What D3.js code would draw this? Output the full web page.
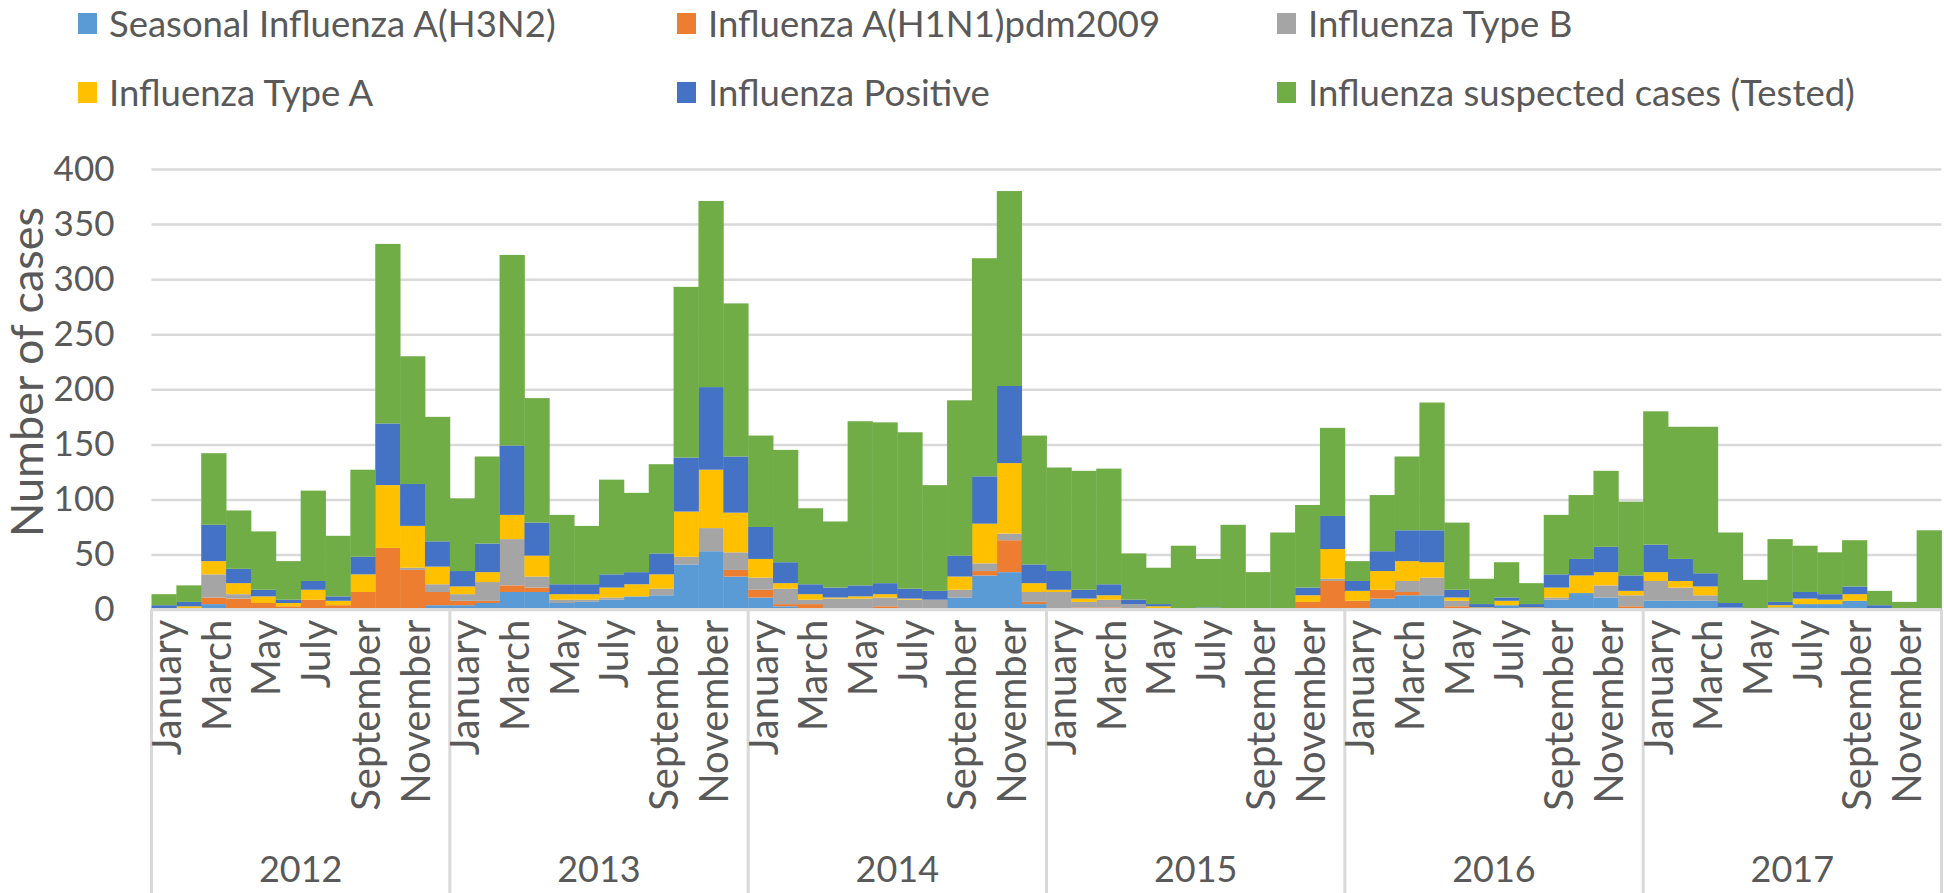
<!DOCTYPE html>
<html>
<head>
<meta charset="utf-8">
<script src="https://cdn.jsdelivr.net/npm/d3@7"></script>
<style>
  html, body { margin: 0; padding: 0; background: #ffffff; overflow: hidden; }
  svg { display: block; }
  text { font-family: Lato, "Open Sans", "Liberation Sans", sans-serif; fill: #595959; }
</style>
</head>
<body>
<svg id="chart" width="1944" height="893"></svg>
<script>
// ---------------- DATA ----------------
const years = ["2012", "2013", "2014", "2015", "2016", "2017"];
const monthNames = ["January", "February", "March", "April", "May", "June",
                    "July", "August", "September", "October", "November", "December"];
const seriesNames = ["Seasonal Influenza A(H3N2)", "Influenza A(H1N1)pdm2009", "Influenza Type B",
                     "Influenza Type A", "Influenza Positive", "Influenza suspected cases (Tested)"];

const h3n2 = [
  1, 0, 5, 1, 0, 0, 0, 0, 0, 1, 0, 4,
  4, 6, 16, 16, 6, 7, 9, 12, 13, 41, 53, 30,
  11, 3, 0, 0, 0, 0, 0, 0, 11, 31, 34, 5,
  0, 0, 0, 0, 0, 0, 0, 0, 0, 0, 0, 0,
  0, 10, 13, 13, 0, 0, 4, 0, 9, 15, 11, 0,
  8, 8, 8, 2, 0, 2, 5, 5, 8, 0, 0, 0
];
const h1n1 = [
  0, 1, 6, 9, 6, 3, 9, 4, 16, 55, 36, 12,
  4, 2, 6, 4, 0, 0, 0, 0, 0, 0, 0, 6,
  7, 2, 5, 0, 0, 3, 0, 0, 0, 4, 29, 2,
  0, 2, 2, 0, 0, 0, 0, 0, 0, 0, 7, 26,
  8, 8, 3, 0, 3, 0, 0, 0, 0, 0, 0, 3,
  0, 0, 0, 0, 0, 0, 0, 0, 0, 0, 0, 0
];
const typeB = [
  0, 0, 21, 4, 0, 0, 0, 0, 0, 0, 2, 7,
  6, 17, 42, 10, 3, 2, 2, 0, 6, 7, 21, 16,
  11, 14, 4, 10, 10, 8, 9, 9, 7, 7, 6, 9,
  16, 5, 7, 5, 0, 0, 0, 0, 0, 0, 0, 2,
  0, 0, 10, 16, 5, 0, 0, 0, 2, 0, 11, 10,
  18, 12, 5, 0, 0, 0, 0, 0, 0, 0, 0, 0
];
const typeA = [
  0, 2, 12, 10, 6, 3, 9, 4, 16, 57, 38, 16,
  7, 9, 22, 19, 5, 5, 9, 11, 13, 41, 53, 36,
  17, 5, 5, 1, 2, 3, 1, 0, 12, 36, 64, 8,
  2, 3, 4, 0, 3, 1, 0, 1, 0, 0, 6, 27,
  9, 17, 18, 14, 3, 2, 4, 2, 9, 16, 12, 4,
  8, 6, 8, 0, 1, 2, 5, 4, 6, 0, 0, 0
];
const positive = [
  3, 4, 33, 13, 6, 3, 8, 4, 16, 56, 38, 23,
  14, 26, 63, 30, 9, 9, 12, 11, 19, 49, 75, 51,
  29, 19, 9, 9, 10, 10, 9, 8, 19, 43, 70, 17,
  17, 8, 10, 4, 2, 0, 2, 0, 0, 1, 7, 30,
  9, 18, 28, 29, 7, 3, 3, 3, 12, 15, 23, 14,
  25, 20, 12, 4, 0, 3, 6, 5, 7, 4, 0, 0
];
const suspected = [
  10, 15, 65, 53, 53, 35, 82, 55, 79, 163, 116, 113,
  66, 79, 173, 113, 63, 53, 86, 72, 81, 155, 169, 139,
  83, 102, 69, 60, 149, 146, 142, 96, 141, 198, 177, 117,
  94, 108, 105, 42, 33, 57, 44, 76, 34, 69, 75, 80,
  18, 51, 67, 116, 61, 23, 32, 19, 54, 58, 69, 67,
  121, 120, 133, 64, 26, 57, 42, 38, 42, 13, 7, 72
];
const yTicks = [0, 50, 100, 150, 200, 250, 300, 350, 400];
const yTitle = "Number of cases";

// ---------------- STYLE ----------------
const colors = ["#5B9BD5", "#ED7D31", "#A5A5A5", "#FFC000", "#4472C4", "#70AD47"];
const F_LEGEND = 36.5, F_TICK = 35, F_MONTH = 40, F_YEAR = 36, F_TITLE = 45;
const GRID = "#d9d9d9";

// ---------------- BUILD ----------------
const seriesValues = [h3n2, h1n1, typeB, typeA, positive, suspected];
const keys = seriesNames;
const rows = [];
years.forEach((yr, yi) => {
  monthNames.forEach((m, mi) => {
    const idx = yi * 12 + mi;
    const row = { idx, year: yr, month: m };
    keys.forEach((k, s) => row[k] = seriesValues[s][idx]);
    rows.push(row);
  });
});

const svg = d3.select("#chart");
const plotL = 151.5, plotR = 1941.5, plotT = 169, plotB = 609.6;

const x = d3.scaleBand().domain(rows.map(r => r.idx)).range([plotL, plotR]).padding(0);
const y = d3.scaleLinear().domain([0, 400]).range([plotB, plotT]);

// gridlines + y labels
const yAxis = d3.axisLeft(y).tickValues(yTicks).tickSize(-(plotR - plotL)).tickPadding(37);
const gy = svg.append("g").attr("transform", `translate(${plotL},0)`).call(yAxis);
gy.select(".domain").remove();
gy.selectAll(".tick line").attr("stroke", GRID).attr("stroke-width", 2.5);
gy.selectAll(".tick text").attr("font-size", F_TICK).attr("fill", "#595959")
  .style("font-family", 'Lato, "Open Sans", sans-serif');

// stacked bars
const stack = d3.stack().keys(keys);
const stacked = stack(rows);
svg.append("g").selectAll("g").data(stacked).join("g")
  .attr("fill", (d, i) => colors[i])
  .selectAll("rect").data(d => d).join("rect")
  .attr("x", d => x(d.data.idx))
  .attr("width", x.bandwidth() + 0.4)
  .attr("y", d => y(d[1]))
  .attr("height", d => Math.max(0, y(d[0]) - y(d[1])));

// baseline
svg.append("line").attr("x1", plotL).attr("x2", plotR).attr("y1", plotB).attr("y2", plotB)
  .attr("stroke", GRID).attr("stroke-width", 3);

// category axis: year separators
const yearStarts = years.map((yr, yi) => x(yi * 12));
const seps = yearStarts.concat([plotR]);
svg.append("g").selectAll("line").data(seps).join("line")
  .attr("x1", d => d).attr("x2", d => d)
  .attr("y1", plotB).attr("y2", 893)
  .attr("stroke", GRID).attr("stroke-width", 3);

// month labels (every other month)
svg.append("g").selectAll("text").data(rows.filter(r => r.idx % 2 === 0)).join("text")
  .attr("transform", d => `translate(${x(d.idx) + x.bandwidth() / 2 + 2},${plotB + 10}) rotate(-90)`)
  .attr("text-anchor", "end")
  .attr("dominant-baseline", "central")
  .attr("font-size", F_MONTH)
  .text(d => d.month);

// year labels
svg.append("g").selectAll("text").data(years).join("text")
  .attr("x", (d, i) => x(i * 12) + 6 * x.bandwidth())
  .attr("y", 868)
  .attr("text-anchor", "middle")
  .attr("dominant-baseline", "central")
  .attr("font-size", F_YEAR)
  .text(d => d);

// y title
svg.append("text")
  .attr("transform", `translate(26,372) rotate(-90)`)
  .attr("text-anchor", "middle")
  .attr("dominant-baseline", "central")
  .attr("font-size", F_TITLE)
  .text(yTitle);

// legend
const legColX = [78, 677, 1277];
const legRowY = [23, 92];
const leg = svg.append("g").selectAll("g").data(seriesNames).join("g")
  .attr("transform", (d, i) => `translate(${legColX[i % 3]},${legRowY[Math.floor(i / 3)]})`);
leg.append("rect").attr("x", 0).attr("y", -10).attr("width", 19).attr("height", 21)
  .attr("fill", (d, i) => colors[i]);
leg.append("text").attr("x", 31).attr("y", 0)
  .attr("dominant-baseline", "central")
  .attr("font-size", F_LEGEND)
  .text(d => d);
</script>
</body>
</html>
